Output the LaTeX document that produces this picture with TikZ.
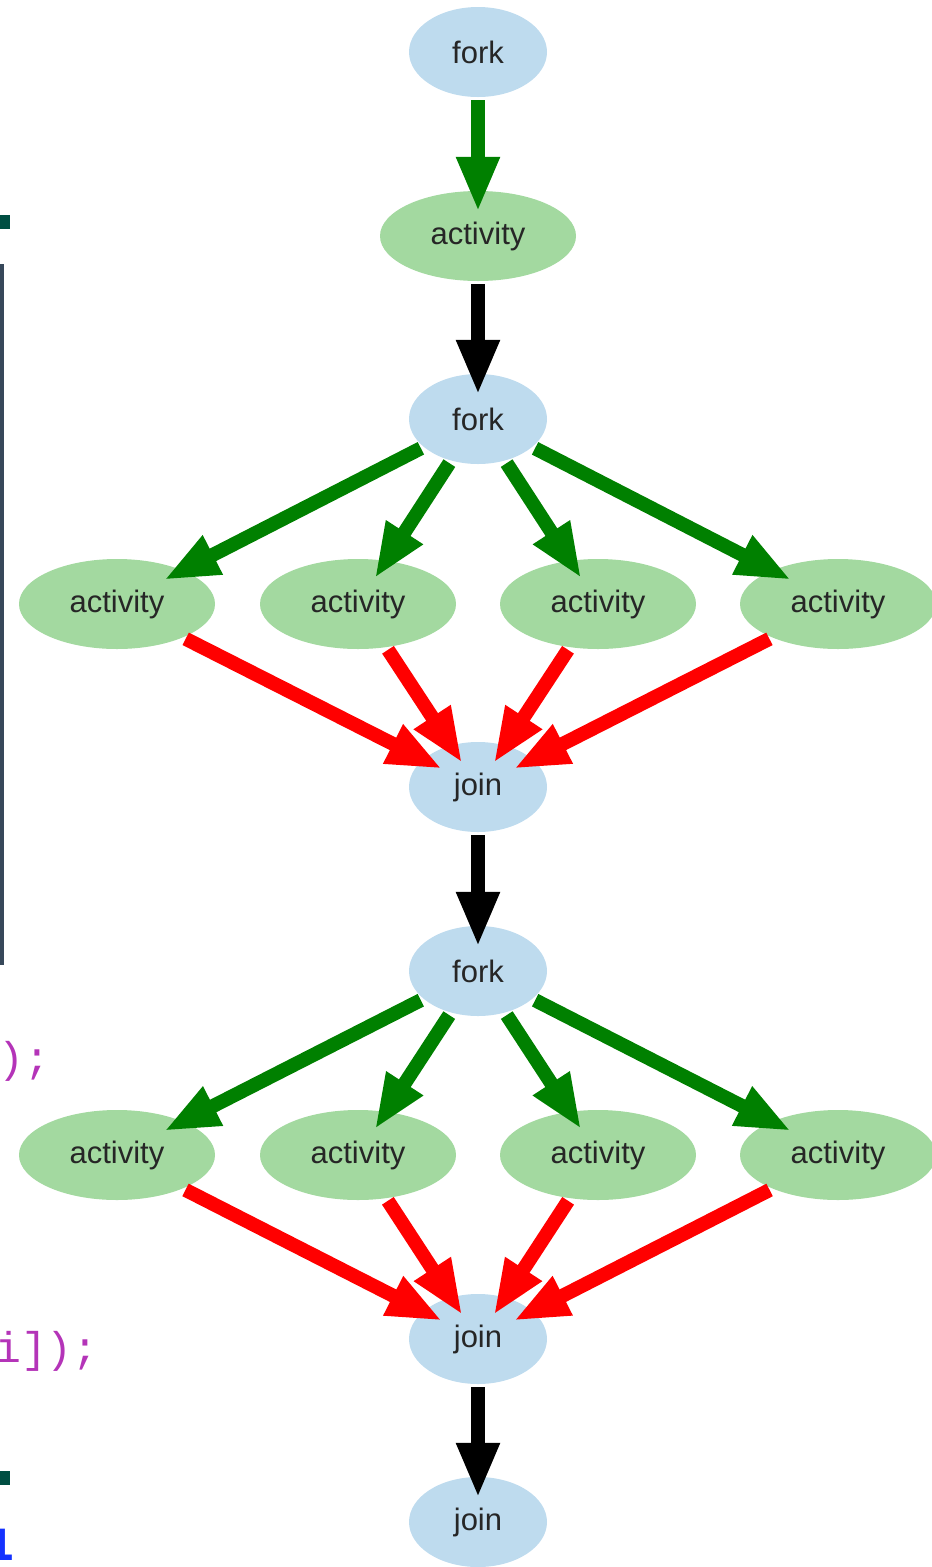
\documentclass[tikz,border=0pt]{standalone}
\usepackage{fontspec}
\setmainfont{Liberation Sans}
\newfontfamily\codefont{Liberation Mono}
\newfontfamily\codefontb{DejaVu Sans Mono Bold}
\usetikzlibrary{shapes.geometric,arrows.meta}
\definecolor{nodeblue}{RGB}{190,219,238}
\definecolor{nodegreen}{RGB}{163,217,160}
\definecolor{edgegreen}{RGB}{0,128,0}
\definecolor{edgered}{RGB}{255,0,0}
\definecolor{codeteal}{RGB}{0,78,66}
\definecolor{codebar}{RGB}{55,72,90}
\definecolor{codemagenta}{RGB}{180,52,184}
\definecolor{codeblue}{RGB}{20,50,255}
\tikzset{
  ctl/.style={ellipse, fill=nodeblue, draw=none, inner sep=0pt,
    minimum width=138pt, minimum height=90pt,
    font=\fontsize{31}{31}\selectfont, text=black!85},
  act/.style={ellipse, fill=nodegreen, draw=none, inner sep=0pt,
    minimum width=196pt, minimum height=90pt,
    font=\fontsize{31}{31}\selectfont, text=black!85},
  edge/.style={line width=14pt, -{Triangle[length=55pt,width=40pt]},
    shorten <=3pt, shorten >=-21pt},
  gedge/.style={edge, draw=edgegreen, edgegreen},
  redge/.style={edge, draw=edgered, edgered},
  kedge/.style={edge, draw=black, black},
  codetext/.style={anchor=base west, inner sep=0pt, text=codemagenta,
    font=\codefont\fontsize{43}{43}\selectfont}
}
\begin{document}
\begin{tikzpicture}[x=1pt,y=-1pt]
\useasboundingbox (0,0) rectangle (932,1567);

% code fragments at left edge
\fill[codeteal] (0,215) rectangle (10,229);
\fill[codebar] (0,264) rectangle (4,965);
\node[codetext] (c1) at (-2,1072) {);};
\node[codetext] (c2) at (-5,1362) {i]);};
\fill[codeteal] (0,1471) rectangle (10,1485);
\node[anchor=base west, inner sep=0pt, text=codeblue,
  font=\codefontb\fontsize{43}{43}\selectfont] (c3) at (-12,1560) {1};

% nodes
\node[ctl] (f1) at (478,52) {fork};
\node[act] (a0) at (478,236) {activity};
\node[ctl] (f2) at (478,419) {fork};
\node[act] (a1) at (117,604) {activity};
\node[act] (a2) at (358,604) {activity};
\node[act] (a3) at (598,604) {activity};
\node[act] (a4) at (838,604) {activity};
\node[ctl] (j1) at (478,787) {join};
\node[ctl] (f3) at (478,971) {fork};
\node[act] (b1) at (117,1155) {activity};
\node[act] (b2) at (358,1155) {activity};
\node[act] (b3) at (598,1155) {activity};
\node[act] (b4) at (838,1155) {activity};
\node[ctl] (j2) at (478,1339) {join};
\node[ctl] (j3) at (478,1522) {join};

% edges
\draw[gedge] (f1) -- (a0);
\draw[kedge] (a0) -- (f2);
\foreach \t in {a1,a2,a3,a4}{
  \draw[gedge] (f2) -- (\t);
  \draw[redge] (\t) -- (j1);
}
\draw[kedge] (j1) -- (f3);
\foreach \t in {b1,b2,b3,b4}{
  \draw[gedge] (f3) -- (\t);
  \draw[redge] (\t) -- (j2);
}
\draw[kedge] (j2) -- (j3);
\end{tikzpicture}
\end{document}
